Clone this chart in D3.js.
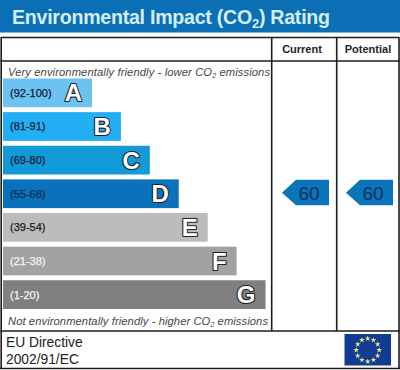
<!DOCTYPE html>
<html><head><meta charset="utf-8">
<script src="https://cdn.jsdelivr.net/npm/d3@7"></script>
<style>html,body{margin:0;padding:0;background:#fff}svg{display:block}text{font-family:"Liberation Sans",Arial,sans-serif}</style>
</head><body><svg id="c" width="400" height="370"></svg>
<script>
const letters = ["A","B","C","D","E","F","G"];
const ranges = ["(92-100)","(81-91)","(69-80)","(55-68)","(39-54)","(21-38)","(1-20)"];
const barLengths = [1,2,3,4,5,6,7];
const barColors = ["#6cc3f1","#22aff4","#1299d8","#0a72bb","#bcbcbc","#a2a2a2","#7f7f7f"];
const rangeColors = ["#111c30","#111c30","#111c30","#0d2a52","#1c1c1c","#f4f4f4","#f4f4f4"];
const columns = ["Current","Potential"];
const currentBand = "D";
const ratings = [60,60];

const svg = d3.select("#c");
const x = d3.scaleLinear().domain([1,7]).range([92,265.5]);
const y = d3.scaleBand().domain(letters).range([78.5,309]).paddingInner(0.145).paddingOuter(0);
const col = d3.scaleOrdinal().domain(columns).range([304,368]);
const ink = "#1c1c1c";

// header
svg.append("rect").attr("width",400).attr("height",32.5).attr("fill","#0a6fb4");
const title = svg.append("text").attr("x",12).attr("y",23.5).attr("font-size",19.6).attr("font-weight","bold").attr("fill","#d4eff9")
  .attr("textLength",318).attr("lengthAdjust","spacing");
title.append("tspan").text("Environmental Impact (CO");
title.append("tspan").text("2").attr("font-size",13).attr("dy",4);
title.append("tspan").text(") Rating").attr("dy",-4);

// frame
const line = (x1,y1,x2,y2,w=1.6)=>svg.append("line").attr("x1",x1).attr("y1",y1).attr("x2",x2).attr("y2",y2).attr("stroke",ink).attr("stroke-width",w);
line(1,37.5,399,37.5);
line(0,61,400,61);
line(1.2,37,1.2,369);
line(399,37,399,369);
line(271.7,37,271.7,331);
line(336.7,37,336.7,331);
line(0,331,400,331);
line(0,368.5,400,368.5);

// column heads
svg.selectAll(".head").data(columns).join("text").attr("class","head")
  .attr("x",d=>col(d)-(d==="Current"?2:0)).attr("y",53).attr("text-anchor","middle")
  .attr("font-size",11).attr("font-weight","bold").attr("fill","#222").text(d=>d);

// captions
function caption(yy,a,b,c,w){
  const t = svg.append("text").attr("x",8).attr("y",yy).attr("font-size",11.2).attr("font-style","italic").attr("fill","#444")
     .attr("textLength",w).attr("lengthAdjust","spacing");
  t.append("tspan").text(a);
  t.append("tspan").text("2").attr("font-size",7).attr("dy",2.5);
  t.append("tspan").text(c).attr("dy",-2.5);
}
caption(75.5,"Very environmentally friendly - lower CO","2"," emissions",262);
caption(324.5,"Not environmentally friendly - higher CO","2"," emissions",260);

// bars
svg.selectAll(".bar").data(letters).join("rect").attr("class","bar")
  .attr("x",3).attr("y",d=>y(d)).attr("height",y.bandwidth())
  .attr("width",(d,i)=>x(barLengths[i])-3).attr("fill",(d,i)=>barColors[i]);
svg.selectAll(".rng").data(letters).join("text").attr("class","rng")
  .attr("x",10).attr("y",d=>y(d)+y.bandwidth()/2+4).attr("font-size",11)
  .attr("stroke",(d,i)=>rangeColors[i]).attr("stroke-width",0.25)
  .attr("fill",(d,i)=>rangeColors[i]).text((d,i)=>ranges[i]);
svg.selectAll(".let").data(letters).join("text").attr("class","let")
  .attr("x",(d,i)=>x(barLengths[i])-10).attr("y",d=>y(d)+y.bandwidth()/2+8.5)
  .attr("text-anchor","end").attr("font-size",24).attr("font-weight","bold")
  .attr("fill","#fff").attr("stroke","#222").attr("stroke-width",2.2).attr("stroke-linejoin","round").attr("paint-order","stroke").text(d=>d);

// rating arrows
const cy = y(currentBand)+y.bandwidth()/2-1;
const arrow = d3.line();
const g = svg.selectAll(".mark").data(ratings).join("g").attr("class","mark")
  .attr("transform",(d,i)=>`translate(${col(columns[i])+25},${cy})`);
g.append("path").attr("d",arrow([[0,-13],[0,12.5],[-33,12.5],[-47,0],[-33,-13]])).attr("fill","#0b74bb");
g.append("text").attr("x",-20).attr("y",7).attr("text-anchor","middle").attr("font-size",19).attr("fill","#0e2f5c").text(d=>d);

// footer
svg.append("text").attr("x",6).attr("y",347).attr("font-size",13.8).attr("fill","#222").text("EU Directive");
svg.append("text").attr("x",6).attr("y",364).attr("font-size",13.8).attr("fill","#222").text("2002/91/EC");

// EU flag
const flag = svg.append("g");
flag.append("rect").attr("x",344.5).attr("y",334).attr("width",46.5).attr("height",31.5).attr("fill","#123c94");
const starPath = d3.symbol().type(d3.symbolStar).size(10)();
flag.selectAll("path").data(d3.range(12)).join("path").attr("d",starPath).attr("fill","#ece87e")
  .attr("transform",d=>{const a=d/12*2*Math.PI;return `translate(${367.7+11.5*Math.sin(a)},${350-11.5*Math.cos(a)})`;});
</script></body></html>
